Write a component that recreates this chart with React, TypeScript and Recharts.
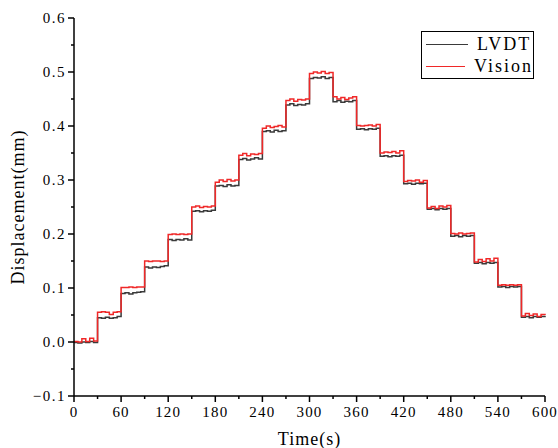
import React from "react";
import { LineChart, Line, XAxis, YAxis, Legend } from "recharts";

// Sampling interval of the recorded traces (seconds)
const SAMPLE_DT = 5;

// LVDT readings (mm), 6 samples per 30 s load step
const LVDT: number[] = [
  -0.001, -0.002, 0.0, -0.001, 0.001, -0.001,
  0.045, 0.044, 0.046, 0.044, 0.045, 0.047,
  0.09, 0.091, 0.089, 0.091, 0.092, 0.093,
  0.139, 0.137, 0.139, 0.138, 0.14, 0.141,
  0.19, 0.188, 0.19, 0.189, 0.191, 0.189,
  0.242, 0.243, 0.241, 0.243, 0.242, 0.244,
  0.289, 0.29, 0.288, 0.291, 0.289, 0.29,
  0.338, 0.34, 0.337, 0.339, 0.341, 0.339,
  0.39, 0.391, 0.389, 0.392, 0.39, 0.391,
  0.439, 0.441, 0.438, 0.44, 0.439, 0.441,
  0.488, 0.49, 0.489, 0.491, 0.488, 0.49,
  0.445, 0.447, 0.444, 0.446, 0.445, 0.447,
  0.394, 0.395, 0.393, 0.395, 0.394, 0.396,
  0.344, 0.345, 0.343, 0.345, 0.344, 0.346,
  0.293, 0.294, 0.292, 0.294, 0.293, 0.294,
  0.246, 0.247, 0.245, 0.247, 0.246, 0.247,
  0.196, 0.197, 0.195, 0.197, 0.196, 0.197,
  0.146, 0.147, 0.145, 0.147, 0.146, 0.147,
  0.102, 0.103, 0.101, 0.103, 0.102, 0.103,
  0.046, 0.047, 0.045, 0.047, 0.046, 0.047,
  0.046,
];

// Vision readings (mm)
const VISION: number[] = [
  0.001, 0.0, 0.006, 0.001, 0.007, 0.002,
  0.055, 0.056, 0.055, 0.051, 0.055, 0.056,
  0.101, 0.101, 0.102, 0.101, 0.102, 0.102,
  0.15, 0.149, 0.15, 0.15, 0.149, 0.15,
  0.199, 0.2, 0.199, 0.2, 0.199, 0.2,
  0.25, 0.252, 0.249, 0.251, 0.25, 0.252,
  0.296, 0.3, 0.297, 0.301, 0.298, 0.3,
  0.346, 0.349, 0.345, 0.348, 0.347, 0.349,
  0.396, 0.4, 0.397, 0.399, 0.401, 0.398,
  0.447, 0.45, 0.446, 0.449, 0.448, 0.45,
  0.497, 0.5, 0.498, 0.501, 0.497, 0.499,
  0.454, 0.45, 0.453, 0.449, 0.452, 0.454,
  0.401, 0.4, 0.401, 0.402, 0.4, 0.403,
  0.35, 0.352, 0.351, 0.353, 0.35, 0.354,
  0.297, 0.299, 0.298, 0.3, 0.296, 0.299,
  0.248, 0.251, 0.247, 0.252, 0.25, 0.253,
  0.201, 0.2, 0.202, 0.2, 0.201, 0.202,
  0.148, 0.153, 0.149, 0.154, 0.15, 0.155,
  0.105, 0.106, 0.105, 0.106, 0.105, 0.106,
  0.048, 0.053, 0.049, 0.052, 0.047, 0.051,
  0.05,
];

const X_TICKS = [0, 30, 60, 90, 120, 150, 180, 210, 240, 270, 300, 330, 360, 390, 420, 450, 480, 510, 540, 570, 600];
const X_MAJOR = [0, 60, 120, 180, 240, 300, 360, 420, 480, 540, 600];
const Y_TICKS = [-0.1, -0.05, 0, 0.05, 0.1, 0.15, 0.2, 0.25, 0.3, 0.35, 0.4, 0.45, 0.5, 0.55, 0.6];
const Y_MAJOR = [-0.1, 0, 0.1, 0.2, 0.3, 0.4, 0.5, 0.6];

const data = LVDT.map((v, i) => ({ t: i * SAMPLE_DT, lvdt: v, vision: VISION[i] }));

const FONT = "'Liberation Serif', 'DejaVu Serif', serif";

const isMajor = (list: number[], v: number) => list.some((m) => Math.abs(m - v) < 1e-9);

const XTick = (props: any) => {
  const { x, y, payload } = props;
  const major = isMajor(X_MAJOR, payload.value);
  return (
    <g>
      <line x1={x} x2={x} y1={y} y2={y + (major ? 6 : 3)} stroke="#000" strokeWidth={1.5} />
      {major && (
        <text x={x} y={y + 21} textAnchor="middle" fontSize={15} fontFamily={FONT} letterSpacing={1.2} fill="#000">
          {String(payload.value)}
        </text>
      )}
    </g>
  );
};

const YTick = (props: any) => {
  const { x, y, payload } = props;
  const major = isMajor(Y_MAJOR, payload.value);
  return (
    <g>
      <line x1={x - (major ? 6 : 3)} x2={x} y1={y} y2={y} stroke="#000" strokeWidth={1.5} />
      {major && (
        <text x={x - 8} y={y + 5} textAnchor="end" fontSize={15} fontFamily={FONT} letterSpacing={1.5} fill="#000">
          {payload.value < 0 ? "\u2212" + Math.abs(payload.value).toFixed(1) : payload.value.toFixed(1)}
        </text>
      )}
    </g>
  );
};

const LegendBox = (props: any) => {
  const items = props.payload || [];
  return (
    <div
      style={{
        width: 111,
        height: 45,
        border: "1px solid #000",
        background: "#fff",
        paddingTop: 1,
        fontFamily: FONT,
      }}
    >
      {items.map((it: any) => (
        <div key={it.value} style={{ display: "flex", alignItems: "center", height: 22 }}>
          <div style={{ marginLeft: 4, width: 42, borderTop: `1.5px solid ${it.color}` }} />
          <span style={{ marginLeft: 9, fontSize: 18, letterSpacing: 2, color: "#000", lineHeight: "22px" }}>
            {it.value}
          </span>
        </div>
      ))}
    </div>
  );
};

export default function App() {
  return (
    <div style={{ position: "absolute", left: 0, top: 8, width: 558, height: 440, background: "#fff", overflow: "visible" }}>
      <LineChart
        width={558}
        height={440}
        data={data}
        margin={{ top: 10, right: 13, bottom: 0, left: 8 }}
        style={{ overflow: "visible" }}
      >
        <XAxis
          dataKey="t"
          type="number"
          domain={[0, 600]}
          ticks={X_TICKS}
          interval={0}
          tick={<XTick />}
          tickLine={false}
          tickSize={0}
          tickMargin={0}
          height={52}
          axisLine={{ stroke: "#000", strokeWidth: 1.5 }}
          label={{ value: "Time(s)", position: "insideBottom", offset: 3, fontSize: 18, fontFamily: FONT, fill: "#000", letterSpacing: 1 }}
        />
        <XAxis
          xAxisId="top"
          orientation="top"
          dataKey="t"
          type="number"
          domain={[0, 600]}
          tick={false}
          tickLine={false}
          height={0}
          axisLine={{ stroke: "#000", strokeWidth: 1 }}
        />
        <YAxis
          type="number"
          domain={[-0.1, 0.6]}
          ticks={Y_TICKS}
          interval={0}
          tick={<YTick />}
          tickLine={false}
          tickSize={0}
          tickMargin={0}
          width={66}
          axisLine={{ stroke: "#000", strokeWidth: 1.5 }}
          label={{
            value: "Displacement(mm)",
            angle: -90,
            position: "insideLeft",
            offset: 10,
            fontSize: 18,
            fontFamily: FONT,
            fill: "#000",
            letterSpacing: 1,
            style: { textAnchor: "middle" },
          }}
        />
        <YAxis
          yAxisId="right"
          orientation="right"
          type="number"
          domain={[-0.1, 0.6]}
          tick={false}
          tickLine={false}
          width={0}
          axisLine={{ stroke: "#000", strokeWidth: 1 }}
        />
        <Legend
          layout="horizontal"
          verticalAlign="middle"
          align="center"
          content={<LegendBox />}
          wrapperStyle={{ position: "absolute", left: 421, top: 23, width: 113, height: 47 }}
        />
        <Line
          name="LVDT"
          dataKey="lvdt"
          type="stepAfter"
          stroke="#3a3a3a"
          strokeWidth={1.5}
          dot={false}
          isAnimationActive={false}
        />
        <Line
          name="Vision"
          dataKey="vision"
          type="stepAfter"
          stroke="#f02828"
          strokeWidth={1.5}
          dot={false}
          isAnimationActive={false}
        />
      </LineChart>
    </div>
  );
}
